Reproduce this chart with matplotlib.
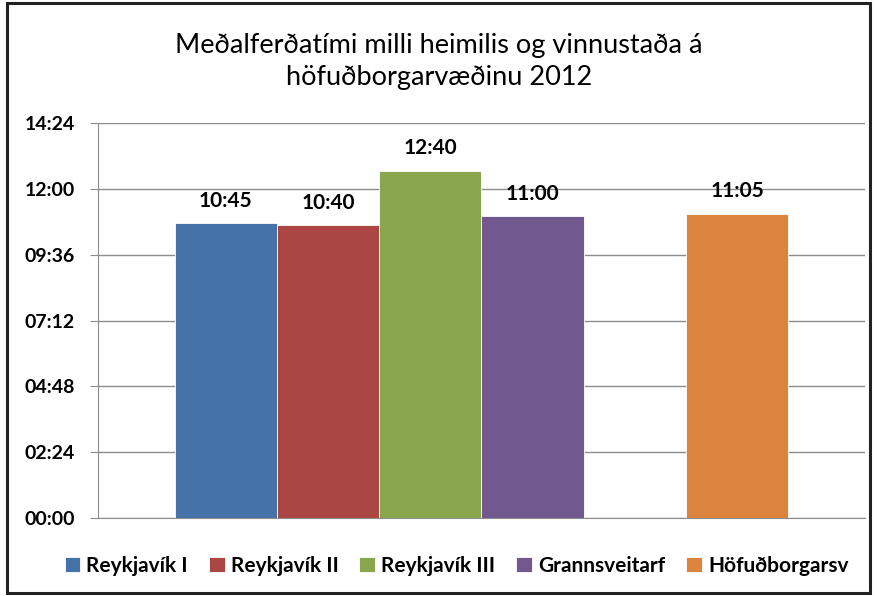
import matplotlib.pyplot as plt
from matplotlib.patches import Rectangle
from matplotlib.ticker import FixedLocator, FuncFormatter

plt.rcParams['font.family'] = ['Lato', 'DejaVu Sans']

# Meðalferðatími í mínútum (birt sem mm:ss)
series = ['Reykjavík I', 'Reykjavík II', 'Reykjavík III', 'Grannsveitarf', 'Höfuðborgarsv']
minutes = [10 + 45 / 60, 10 + 40 / 60, 12 + 40 / 60, 11.0, 11 + 5 / 60]
labels = ['10:45', '10:40', '12:40', '11:00', '11:05']
slots = [0, 1, 2, 3, 5]   # eitt tómt sæti á milli
colors = ['#4572A7', '#AA4643', '#89A54E', '#71588F', '#DB843D']

y_ticks = [0, 2.4, 4.8, 7.2, 9.6, 12.0, 14.4]


def fmt_time(v, pos=None):
    total = round(v * 60)
    return f"{total // 60:02d}:{total % 60:02d}"


fig = plt.figure(figsize=(8.78, 5.96), dpi=100)
ax = fig.add_axes([98 / 878, 1 - 518 / 596, 767 / 878, 395 / 596])

handles = []
for s, v, lab, name, c in zip(slots, minutes, labels, series, colors):
    b = ax.bar(s, v, width=1.0, color=c, edgecolor='white', linewidth=0.6,
               label=name, zorder=3)
    handles.append(b)
    ax.annotate(lab, (s, v), xytext=(0, 9), textcoords='offset points',
                ha='center', va='bottom', fontsize=15, fontweight='bold',
                zorder=4)

ax.set_xlim(-1.25, 6.25)
ax.set_ylim(0, 14.4)
ax.yaxis.set_major_locator(FixedLocator(y_ticks))
ax.yaxis.set_major_formatter(FuncFormatter(fmt_time))
ax.set_xticks([])
ax.grid(axis='y', color='#8c8c8c', linewidth=1.0, zorder=0)
for side in ['top', 'right']:
    ax.spines[side].set_visible(False)
ax.spines['left'].set_color('#8c8c8c')
ax.spines['bottom'].set_color('#8c8c8c')
ax.tick_params(axis='y', length=6, color='#8c8c8c', pad=10.5,
               labelsize=14)
for t in ax.get_yticklabels():
    t.set_fontweight('bold')

fig.text(0.5, 1 - 45 / 596, 'Meðalferðatími milli heimilis og vinnustaða á',
         ha='center', va='center', fontsize=19.5)
fig.text(0.5, 1 - 77 / 596, 'höfuðborgarvæðinu 2012',
         ha='center', va='center', fontsize=19.5)

leg = fig.legend(handles=handles, loc='center', bbox_to_anchor=(0.52, 1 - 566 / 596),
                 ncol=5, frameon=False, handlelength=0.75, handleheight=0.75,
                 handletextpad=0.3, columnspacing=1.0,
                 prop={'weight': 'bold', 'size': 15})

# rammi utan um myndina
fig.patches.append(Rectangle((7 / 878, 3 / 596), 863 / 878, 590 / 596,
                             transform=fig.transFigure, fill=False,
                             edgecolor='#222222', linewidth=2.2))

fig.savefig('out.png', dpi=100)
